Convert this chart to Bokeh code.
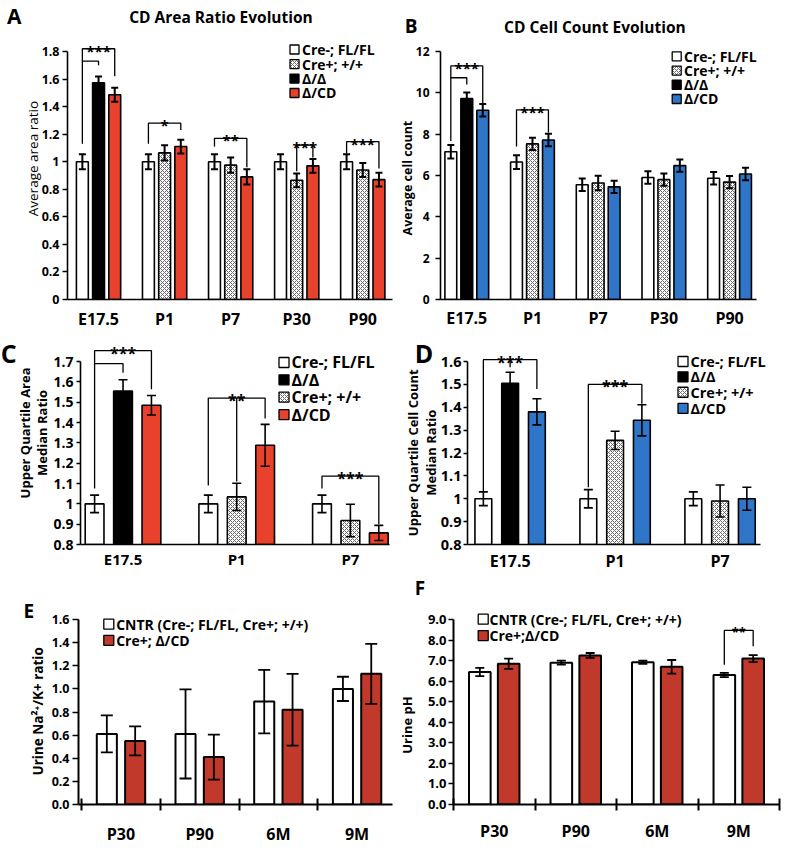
import math
from bokeh.plotting import figure
from bokeh.models import Range1d, FixedTicker, ColumnDataSource, Whisker, TeeHead
from bokeh.layouts import column, row
from bokeh.embed import file_html
from bokeh.resources import INLINE
from bokeh.core.properties import value

FONT = "Open Sans"
RED_AC = "#E8412C"
BLUE_BD = "#2F75C8"
RED_EF = "#C0392B"
HATCH_GREY = "#6a6a6a"

# ---------------- data ----------------
# Panel A: CD area ratio
A_groups = ["E17.5", "P1", "P7", "P30", "P90"]
A_ctrl = [1.00, 1.00, 1.00, 1.00, 1.00]
A_ctrl_err = [0.055, 0.055, 0.055, 0.055, 0.055]
A_het = [None, 1.064, 0.975, 0.865, 0.940]
A_het_err = [None, 0.055, 0.055, 0.050, 0.050]
A_dd = [1.573, None, None, None, None]
A_dd_err = [0.045, None, None, None, None]
A_dcd = [1.486, 1.110, 0.890, 0.970, 0.870]
A_dcd_err = [0.050, 0.050, 0.055, 0.050, 0.050]
A_yticks = [0, 0.2, 0.4, 0.6, 0.8, 1.0, 1.2, 1.4, 1.6, 1.8]
A_ytick_labels = ["0", "0.2", "0.4", "0.6", "0.8", "1", "1.2", "1.4", "1.6", "1.8"]
A_legend = ["Cre-; FL/FL", "Cre+; +/+", "Δ/Δ", "Δ/CD"]
# (group, from slot, to slot, bracket top, left end, right end, label)
A_sig = [(0, 0, 2, 1.82, 1.13, 1.62, "***"), (0, 0, 1, 1.73, 1.73, 1.70, ""),
         (1, 0, 2, 1.28, 1.13, 1.23, "*"), (2, 0, 2, 1.17, 1.11, 0.96, "**"),
         (3, 1, 2, 1.12, 0.93, 1.03, "***"), (4, 0, 2, 1.146, 1.06, 0.95, "***")]

# Panel B: CD cell count
B_groups = ["E17.5", "P1", "P7", "P30", "P90"]
B_ctrl = [7.15, 6.65, 5.55, 5.90, 5.87]
B_ctrl_err = [0.33, 0.33, 0.30, 0.30, 0.30]
B_het = [None, 7.53, 5.64, 5.80, 5.68]
B_het_err = [None, 0.30, 0.35, 0.30, 0.30]
B_dd = [9.72, None, None, None, None]
B_dd_err = [0.30, None, None, None, None]
B_dcd = [9.16, 7.72, 5.45, 6.48, 6.07]
B_dcd_err = [0.30, 0.30, 0.30, 0.30, 0.30]
B_yticks = [0, 2, 4, 6, 8, 10, 12]
B_ytick_labels = ["0", "2", "4", "6", "8", "10", "12"]
B_legend = ["Cre-; FL/FL", "Cre+; +/+", "Δ/Δ", "Δ/CD"]
B_sig = [(0, 0, 2, 11.3, 7.67, 9.5, "***"), (0, 0, 1, 10.73, 10.73, 10.4, ""),
         (1, 0, 2, 9.18, 7.4, 8.08, "***")]

# Panel C: upper quartile area median ratio
C_groups = ["E17.5", "P1", "P7"]
C_ctrl = [1.00, 1.00, 1.00]
C_ctrl_err = [0.043, 0.043, 0.043]
C_dd = [1.555, None, None]
C_dd_err = [0.055, None, None]
C_het = [None, 1.034, 0.918]
C_het_err = [None, 0.067, 0.080]
C_dcd = [1.485, 1.288, 0.857]
C_dcd_err = [0.048, 0.103, 0.037]
C_yticks = [0.8, 0.9, 1.0, 1.1, 1.2, 1.3, 1.4, 1.5, 1.6, 1.7]
C_ytick_labels = ["0.8", "0.9", "1", "1.1", "1.2", "1.3", "1.4", "1.5", "1.6", "1.7"]
C_legend = ["Cre-; FL/FL", "Δ/Δ", "Cre+; +/+", "Δ/CD"]
C_sig = [(0, 0, 2, 1.753, 1.075, 1.563, "***"), (0, 0, 1, 1.69, 1.69, 1.645, ""),
         (1, 0, 2, 1.52, 1.09, 1.42, "**"), (1, 1, 1, 1.52, 1.11, 1.11, ""),
         (2, 0, 2, 1.136, 1.075, 0.90, "***")]

# Panel D: upper quartile cell count median ratio
D_groups = ["E17.5", "P1", "P7"]
D_ctrl = [1.00, 1.00, 1.00]
D_ctrl_err = [0.03, 0.04, 0.03]
D_dd = [1.505, None, None]
D_dd_err = [0.048, None, None]
D_het = [None, 1.255, 0.99]
D_het_err = [None, 0.04, 0.07]
D_dcd = [1.38, 1.343, 1.00]
D_dcd_err = [0.057, 0.068, 0.05]
D_yticks = [0.8, 0.9, 1.0, 1.1, 1.2, 1.3, 1.4, 1.5, 1.6]
D_ytick_labels = ["0.8", "0.9", "1", "1.1", "1.2", "1.3", "1.4", "1.5", "1.6"]
D_legend = ["Cre-; FL/FL", "Δ/Δ", "Cre+; +/+", "Δ/CD"]
D_sig = [(0, 0, 2, 1.608, 1.03, 1.48, "***"), (0, 1, 1, 1.608, 1.575, 1.575, ""),
         (1, 0, 2, 1.50, 1.05, 1.415, "***")]

# Panel E: urine Na/K ratio
E_groups = ["P30", "P90", "6M", "9M"]
E_ctrl = [0.61, 0.61, 0.89, 1.00]
E_ctrl_err = [0.16, 0.385, 0.275, 0.105]
E_cd = [0.55, 0.41, 0.82, 1.13]
E_cd_err = [0.125, 0.195, 0.31, 0.26]
E_yticks = [0, 0.2, 0.4, 0.6, 0.8, 1.0, 1.2, 1.4, 1.6]
E_ytick_labels = ["0.0", "0.2", "0.4", "0.6", "0.8", "1.0", "1.2", "1.4", "1.6"]
E_legend = ["CNTR (Cre-; FL/FL, Cre+; +/+)", "Cre+; Δ/CD"]

# Panel F: urine pH
F_groups = ["P30", "P90", "6M", "9M"]
F_ctrl = [6.45, 6.90, 6.92, 6.30]
F_ctrl_err = [0.20, 0.10, 0.08, 0.10]
F_cd = [6.85, 7.25, 6.70, 7.10]
F_cd_err = [0.25, 0.12, 0.33, 0.17]
F_yticks = [0, 1, 2, 3, 4, 5, 6, 7, 8, 9]
F_ytick_labels = ["0.0", "1.0", "2.0", "3.0", "4.0", "5.0", "6.0", "7.0", "8.0", "9.0"]
F_legend = ["CNTR (Cre-; FL/FL, Cre+; +/+)", "Cre+;Δ/CD"]
F_sig = [(3, 0, 1, 8.47, 6.8, 7.7, "**")]

# ---------------- geometry / style ----------------
GA = dict(W=394, H=334, L=67, R=2, T=51, B=32, x=(-0.47, 4.45), y=(0, 1.8))
GB = dict(W=390, H=334, L=46, R=28, T=41, B=35, x=(-0.40, 4.41), y=(0, 12))
GC = dict(W=394, H=240, L=80, R=5, T=27, B=27, x=(-0.374, 2.344), y=(0.8, 1.7))
GD = dict(W=390, H=240, L=73, R=24, T=25, B=28, x=(-0.406, 2.385), y=(0.8, 1.6))
GE = dict(W=394, H=273, L=78, R=2, T=34, B=36, x=(-0.54, 3.45), y=(0, 1.6))
GF = dict(W=390, H=273, L=59, R=5, T=45, B=32, x=(-0.5, 3.5), y=(0, 9))

HATCH = dict(hatch_pattern="diagonal_cross", hatch_color=HATCH_GREY, hatch_scale=4.0, hatch_weight=1.0)


def make_fig(g):
    p = figure(width=g["W"], height=g["H"], x_range=Range1d(*g["x"]), y_range=Range1d(*g["y"]),
               output_backend="svg", toolbar_location=None, tools="")
    p.min_border_left = g["L"]
    p.min_border_right = g["R"]
    p.min_border_top = g["T"]
    p.min_border_bottom = g["B"]
    p.outline_line_color = None
    p.xgrid.visible = False
    p.ygrid.visible = False
    p.background_fill_color = "white"
    p.border_fill_color = "white"
    return p


def to_data(g, px, py):
    x0, x1 = g["x"]
    y0, y1 = g["y"]
    fw = g["W"] - g["L"] - g["R"]
    fh = g["H"] - g["T"] - g["B"]
    return x0 + (px - g["L"]) / fw * (x1 - x0), y1 - (py - g["T"]) / fh * (y1 - y0)


def put_text(p, g, px, py, txt, size, bold=True, angle=0.0, align="center", baseline="middle"):
    x, y = to_data(g, px, py)
    p.text(x=[x], y=[y], text=[txt], angle=angle, text_align=align, text_baseline=baseline,
           text_font=value(FONT), text_font_size=f"{size}px",
           text_font_style="bold" if bold else "normal", text_color="black", level="overlay")


def style_axes(p, groups, yticks, ylabels, xfont, yfont, ytick_out, ystandoff, xstandoff,
               boundaries=False, lw=1.6):
    xa = p.xaxis[0]
    ya = p.yaxis[0]
    centers = list(range(len(groups)))
    if boundaries:
        xa.ticker = FixedTicker(ticks=centers, minor_ticks=[c - 0.5 for c in range(len(groups) + 1)])
        xa.minor_tick_in = 6
        xa.minor_tick_out = 6
        xa.minor_tick_line_width = 2
        xa.minor_tick_line_color = "black"
    else:
        xa.ticker = FixedTicker(ticks=centers)
        xa.minor_tick_in = 0
        xa.minor_tick_out = 0
    xa.major_tick_in = 0
    xa.major_tick_out = 0
    xa.major_label_overrides = {c: name for c, name in zip(centers, groups)}
    xa.major_label_standoff = int(xstandoff)
    xa.major_label_text_font_size = f"{xfont}px"
    ya.ticker = FixedTicker(ticks=yticks)
    ya.major_label_overrides = {t: l for t, l in zip(yticks, ylabels)}
    ya.major_tick_in = 0
    ya.major_tick_out = int(ytick_out)
    ya.minor_tick_in = 0
    ya.minor_tick_out = 0
    ya.major_label_standoff = int(ystandoff)
    ya.major_label_text_font_size = f"{yfont}px"
    for ax in (xa, ya):
        ax.axis_line_color = "black"
        ax.axis_line_width = lw
        ax.major_tick_line_color = "black"
        ax.major_tick_line_width = 1.5
        ax.major_label_text_font = FONT
        ax.major_label_text_font_style = "bold"
        ax.major_label_text_color = "black"


def add_series(p, vals, errs, slot, offsets, width, fill, hatched, lw, cap, wlw):
    xs, tops, ups, lows = [], [], [], []
    for i, (v, e) in enumerate(zip(vals, errs)):
        if v is None:
            continue
        xs.append(i + offsets[slot])
        tops.append(v)
        ups.append(v + e)
        lows.append(v - e)
    src = ColumnDataSource(dict(x=xs, top=tops, upper=ups, lower=lows))
    kw = HATCH if hatched else {}
    p.vbar(x="x", top="top", bottom=0, width=width, source=src, fill_color=fill,
           line_color="black", line_width=lw, **kw)
    p.add_layout(Whisker(source=src, base="x", upper="upper", lower="lower", level="overlay",
                         line_color="black", line_width=wlw,
                         upper_head=TeeHead(size=cap, line_width=wlw, line_color="black"),
                         lower_head=TeeHead(size=cap, line_width=wlw, line_color="black")))


def add_sig(p, sig, offsets, font_size, lw=1.3):
    xs, ys, tx, ty, tt = [], [], [], [], []
    for grp, a, b, top, da, db, lab in sig:
        xa = grp + offsets[a]
        xb = grp + offsets[b]
        xs.append([xa, xa, xb, xb])
        ys.append([da, top, top, db])
        if lab:
            tx.append((xa + xb) / 2)
            ty.append(top)
            tt.append(lab)
    p.multi_line(xs=xs, ys=ys, line_color="black", line_width=lw, level="overlay")
    p.text(x=tx, y=ty, text=tt, text_align="center", text_baseline="alphabetic", y_offset=2,
           text_font=value(FONT), text_font_size=f"{font_size}px", text_font_style="bold",
           text_color="black", level="overlay")


def add_legend(p, g, labels, fills, hatches, sq_px, txt_px, rows_py, sq_size, font_size):
    for lab, fill, hat, py in zip(labels, fills, hatches, rows_py):
        x, y = to_data(g, sq_px, py)
        kw = HATCH if hat else {}
        p.scatter(x=[x], y=[y], marker="square", size=sq_size, fill_color=fill, line_color="black",
                  line_width=1.3, level="overlay", **kw)
        put_text(p, g, txt_px, py, lab, font_size, bold=True, align="left")


# ---------------- Panel A ----------------
A_off = [-0.245, 0.0, 0.245]
pA = make_fig(GA)
style_axes(pA, A_groups, A_yticks, A_ytick_labels, 16, 12.5, 5, 3, 8)
add_series(pA, A_ctrl, A_ctrl_err, 0, A_off, 0.18, "white", False, 1.6, 7, 2)
add_series(pA, A_het, A_het_err, 1, A_off, 0.18, "white", True, 1.6, 7, 2)
add_series(pA, A_dd, A_dd_err, 1, A_off, 0.18, "black", False, 1.6, 7, 2)
add_series(pA, A_dcd, A_dcd_err, 2, A_off, 0.18, RED_AC, False, 1.6, 7, 2)
add_sig(pA, A_sig, A_off, 15)
add_legend(pA, GA, A_legend, ["white", "white", "black", RED_AC], [False, True, False, False],
           294, 301.5, [49, 63.7, 78.4, 93], 9, 14)
put_text(pA, GA, 13.7, 14.7, "A", 21)
put_text(pA, GA, 220.5, 15.7, "CD Area Ratio Evolution", 15.5)
put_text(pA, GA, 32.8, 159.4, "Average area ratio", 13.5, bold=False, angle=math.pi / 2)

# ---------------- Panel B ----------------
B_off = [-0.243, 0.0, 0.243]
pB = make_fig(GB)
style_axes(pB, B_groups, B_yticks, B_ytick_labels, 16, 12, 5, 6, 7)
add_series(pB, B_ctrl, B_ctrl_err, 0, B_off, 0.18, "white", False, 1.6, 7, 2)
add_series(pB, B_het, B_het_err, 1, B_off, 0.18, "white", True, 1.6, 7, 2)
add_series(pB, B_dd, B_dd_err, 1, B_off, 0.18, "black", False, 1.6, 7, 2)
add_series(pB, B_dcd, B_dcd_err, 2, B_off, 0.18, BLUE_BD, False, 1.6, 7, 2)
add_sig(pB, B_sig, B_off, 15)
add_legend(pB, GB, B_legend, ["white", "white", "black", BLUE_BD], [False, True, False, False],
           282.2, 289.5, [46, 60.8, 75.6, 90.4], 9, 14)
put_text(pB, GB, 16.6, 14.7, "B", 19)
put_text(pB, GB, 200.4, 15.7, "CD Cell Count Evolution", 15.5)
put_text(pB, GB, 12.7, 172.7, "Average cell count", 12.5, bold=True, angle=math.pi / 2)

# ---------------- Panel C ----------------
C_off = [-0.25, 0.0, 0.25]
pC = make_fig(GC)
style_axes(pC, C_groups, C_yticks, C_ytick_labels, 15, 14, 4, 3, 4)
add_series(pC, C_ctrl, C_ctrl_err, 0, C_off, 0.165, "white", False, 1.6, 9, 1.6)
add_series(pC, C_dd, C_dd_err, 1, C_off, 0.165, "black", False, 1.6, 9, 1.6)
add_series(pC, C_het, C_het_err, 1, C_off, 0.165, "white", True, 1.6, 9, 1.6)
add_series(pC, C_dcd, C_dcd_err, 2, C_off, 0.165, RED_AC, False, 1.6, 9, 1.6)
add_sig(pC, C_sig, C_off, 16)
add_legend(pC, GC, C_legend, ["white", "black", "white", RED_AC], [False, False, True, False],
           283.5, 291, [28, 45.6, 63.3, 81], 10, 16)
put_text(pC, GC, 8.3, 18.2, "C", 25)
put_text(pC, GC, 24.0, 99.6, "Upper Quartile Area", 13, bold=True, angle=math.pi / 2)
put_text(pC, GC, 41.7, 99.6, "Median Ratio", 13, bold=True, angle=math.pi / 2)

# ---------------- Panel D ----------------
D_off = [-0.255, 0.0, 0.255]
pD = make_fig(GD)
style_axes(pD, D_groups, D_yticks, D_ytick_labels, 16, 14.5, 4, 2, 5)
add_series(pD, D_ctrl, D_ctrl_err, 0, D_off, 0.16, "white", False, 1.6, 9, 1.6)
add_series(pD, D_dd, D_dd_err, 1, D_off, 0.16, "black", False, 1.6, 9, 1.6)
add_series(pD, D_het, D_het_err, 1, D_off, 0.16, "white", True, 1.6, 9, 1.6)
add_series(pD, D_dcd, D_dcd_err, 2, D_off, 0.16, BLUE_BD, False, 1.6, 9, 1.6)
add_sig(pD, D_sig, D_off, 16)
add_legend(pD, GD, D_legend, ["white", "black", "white", BLUE_BD], [False, False, True, False],
           288.5, 296, [25, 40.7, 56.4, 73], 10, 14.5)
put_text(pD, GD, 29.4, 16, "D", 25)
put_text(pD, GD, 18.1, 118.2, "Upper Quartile Cell Count", 13, bold=True, angle=math.pi / 2)
put_text(pD, GD, 36.7, 118.2, "Median Ratio", 13, bold=True, angle=math.pi / 2)

# ---------------- Panel E ----------------
E_off = [-0.18, 0.18]
pE = make_fig(GE)
style_axes(pE, E_groups, E_yticks, E_ytick_labels, 16, 12.5, 6, 3, 12, boundaries=True, lw=2)
add_series(pE, E_ctrl, E_ctrl_err, 0, E_off, 0.255, "white", False, 2, 12, 1.8)
add_series(pE, E_cd, E_cd_err, 1, E_off, 0.255, RED_EF, False, 2, 12, 1.8)
add_legend(pE, GE, E_legend, ["white", RED_EF], [False, False],
           108.3, 115.7, [39.1, 56.8], 10, 14)
put_text(pE, GE, 28.4, 24.4, "E", 19)
put_text(pE, GE, 37.7, 134.8, "Urine Na²⁺/K+ ratio", 13.5, bold=True, angle=math.pi / 2)

# ---------------- Panel F ----------------
F_off = [-0.177, 0.177]
pF = make_fig(GF)
style_axes(pF, F_groups, F_yticks, F_ytick_labels, 16, 13, 5, 2, 9, boundaries=True, lw=2)
add_series(pF, F_ctrl, F_ctrl_err, 0, F_off, 0.265, "white", False, 2, 9, 1.8)
add_series(pF, F_cd, F_cd_err, 1, F_off, 0.265, RED_EF, False, 2, 9, 1.8)
add_sig(pF, F_sig, F_off, 13)
add_legend(pF, GF, F_legend, ["white", RED_EF], [False, False],
           88.7, 95, [44.7, 62], 10, 14)
put_text(pF, GF, 25.4, 11.7, "F", 19)
put_text(pF, GF, 12.7, 156.8, "Urine pH", 13, bold=True, angle=math.pi / 2)

layout = column(row(pA, pB), row(pC, pD), row(pE, pF))
open("out.html", "w").write(file_html(layout, INLINE))
